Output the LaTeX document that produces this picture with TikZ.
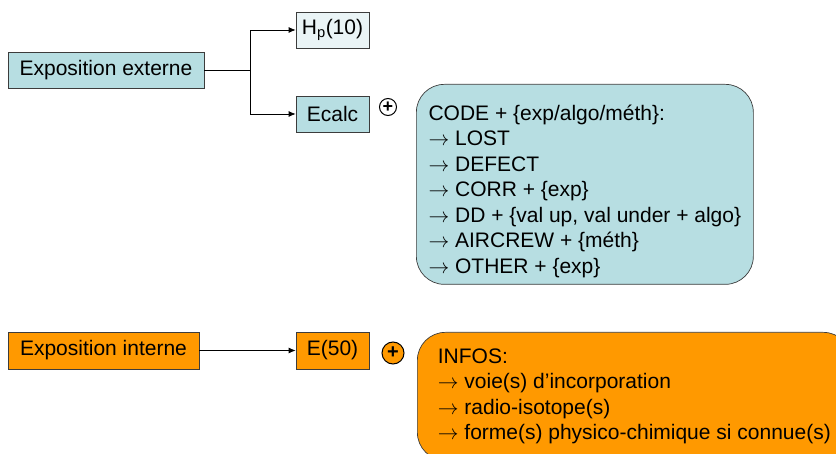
\documentclass[tikz,border=0pt]{standalone}
\usepackage{fontspec}
\setmainfont{Liberation Sans}
\usetikzlibrary{arrows.meta}

\definecolor{extblue}{RGB}{183,222,226}
\definecolor{hpblue}{RGB}{234,244,246}
\definecolor{intorange}{RGB}{255,153,0}
\definecolor{edgegray}{RGB}{60,60,60}

\newcommand{\ra}{$\rightarrow$\ }

\tikzset{
  box/.style={draw=edgegray, line width=0.7pt, minimum height=36pt, inner sep=0pt,
    font=\fontsize{21}{24}\selectfont},
  extbox/.style={box, fill=extblue},
  intbox/.style={box, fill=intorange},
  infobox/.style={draw=edgegray, line width=0.7pt, rounded corners=28pt, anchor=north west,
    align=left, inner sep=0pt, font=\fontsize{21}{25.5}\selectfont},
  plus/.style={circle, draw=black, line width=1pt, inner sep=0pt},
  arr/.style={-{Latex[length=7pt,width=6pt]}, line width=0.8pt}
}

\begin{document}
\begin{tikzpicture}[x=1pt,y=-1pt]
  \useasboundingbox (0,0) rectangle (836,454);

  % External exposure
  \node[extbox, minimum width=196pt]          (extern) at (106,70)  {Exposition externe};
  \node[box, fill=hpblue, minimum width=73pt] (hp)     at (332.5,30) {H\textsubscript{p}(10)};
  \node[extbox, minimum width=73pt]           (ecalc)  at (332.5,114) {Ecalc};
  \node[plus, minimum size=17pt, fill=white, font=\fontsize{18}{18}\bfseries] (plus-e) at (388,107) {+};
  \node[infobox, fill=extblue, minimum width=337pt, minimum height=200pt]
    (codes) at (416,84)
    {\rule{0pt}{29pt}CODE + \{exp/algo/méth\}:\\
     \ra LOST\\
     \ra DEFECT\\
     \ra CORR + \{exp\}\\
     \ra DD + \{val up, val under + algo\}\\
     \ra AIRCREW + \{méth\}\\
     \ra OTHER + \{exp\}};

  % Internal exposure
  \node[intbox, minimum width=191pt, minimum height=37pt] (intern) at (103.5,350.5) {Exposition interne};
  \node[intbox, minimum width=73pt, minimum height=37pt]  (e50)    at (332.5,350.5) {E(50)};
  \node[plus, minimum size=22pt, fill=intorange, font=\fontsize{20}{20}\bfseries] (plus-i) at (393,353) {+};
  \node[infobox, fill=intorange, minimum width=434pt, minimum height=128pt]
    (infos) at (417,332)
    {INFOS:\\
     \ra voie(s) d’incorporation\\
     \ra radio-isotope(s)\\
     \ra forme(s) physico-chimique si connue(s)};

  % Connect the nodes
  \coordinate (split) at (250,70);
  \draw[line width=0.8pt] (extern.east) -- (split);
  \draw[arr] (split) |- (hp.west);
  \draw[arr] (split) |- (ecalc.west);
  \draw[arr] (intern.east) -- (e50.west);

\end{tikzpicture}
\end{document}
